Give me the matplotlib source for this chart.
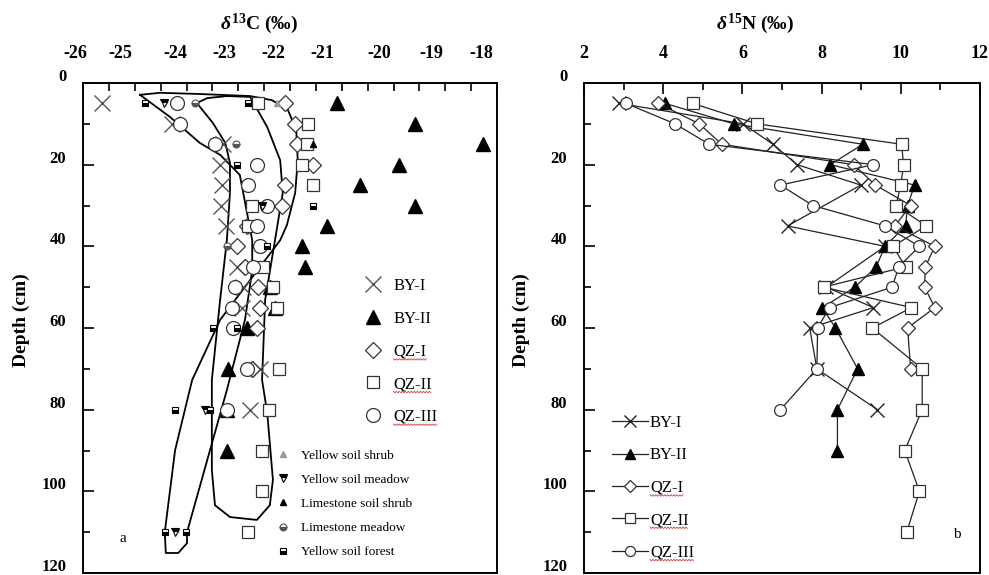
import matplotlib
matplotlib.use("Agg")
import numpy as np
import matplotlib.pyplot as plt
import matplotlib.transforms as mtransforms
from matplotlib.lines import Line2D
from matplotlib.ticker import MultipleLocator

plt.rcParams["font.family"] = ["Liberation Serif", "DejaVu Serif"]
plt.rcParams["mathtext.fontset"] = "custom"
plt.rcParams["mathtext.it"] = "Liberation Serif:italic:bold"
plt.rcParams["mathtext.rm"] = "Liberation Serif:bold"
plt.rcParams["mathtext.bf"] = "Liberation Serif:bold"

# ---- panel a : d13C by depth ----
c13_byi_depth = [5, 10, 15, 20, 25, 30, 35, 45, 50, 55, 70, 80]
c13_byi = [-25.63, -24.28, -23.30, -23.35, -23.31, -23.33, -23.24, -23.02, -22.91, -22.93, -22.58, -22.77]

c13_byii_depth = [5, 10, 15, 20, 25, 30, 35, 40, 45, 50, 55, 60, 70, 80, 90]
c13_byii = [-21.09, -19.58, -18.27, -19.89, -20.65, -19.58, -21.28, -21.77, -21.71, -22.39, -22.29, -22.83, -23.20, -23.22, -23.22]

c13_qzi_depth = [5, 10, 15, 20, 25, 30, 35, 40, 45, 50, 55, 60, 70]
c13_qzi = [-22.10, -21.90, -21.86, -21.56, -22.10, -22.15, -22.83, -23.02, -22.87, -22.62, -22.58, -22.64, -22.73]

c13_qzii_depth = [5, 10, 15, 20, 25, 30, 35, 45, 50, 55, 70, 80, 90, 100, 110]
c13_qzii = [-22.62, -21.65, -21.67, -21.77, -21.56, -22.73, -22.81, -22.52, -22.33, -22.25, -22.21, -22.41, -22.54, -22.54, -22.81]

c13_qziii_depth = [5, 10, 15, 20, 25, 30, 35, 40, 45, 50, 55, 60, 70, 80]
c13_qziii = [-24.18, -24.12, -23.45, -22.64, -22.81, -22.44, -22.64, -22.58, -22.71, -23.06, -23.12, -23.10, -22.83, -23.22]

# small site markers
ys_shrub_depth = [5]
ys_shrub = [-22.25]
ys_meadow_depth = [5, 30, 80, 110]
ys_meadow = [-24.43, -22.54, -23.64, -24.22]
ls_shrub_depth = [15]
ls_shrub = [-21.56]
ls_meadow_depth = [5, 15, 40]
ls_meadow = [-23.84, -23.04, -23.22]
ys_forest_depth = [5, 5, 20, 30, 40, 60, 60, 80, 80, 110, 110]
ys_forest = [-24.80, -22.81, -23.02, -21.56, -22.44, -23.49, -23.02, -24.22, -23.55, -24.42, -24.01]

# hand drawn envelopes (value, depth)
env1_x = [-24.90, -24.51, -23.74, -22.77, -22.35, -22.04, -21.88, -21.85, -21.90, -22.06, -22.19,
          -23.35, -23.89, -24.22, -24.42, -24.40, -24.16, -23.99, -23.99, -23.22, -22.87, -22.73,
          -22.73, -22.97, -23.35, -23.74, -24.32, -24.90]
env1_d = [2.9, 2.4, 2.7, 3.2, 4.2, 6.6, 11.5, 18.9, 26.9, 34.8, 38.5,
          58.0, 72.7, 89.9, 110.0, 115.1, 115.1, 112.7, 110.0, 75.2, 58.0, 45.8,
          38.5, 22.5, 17.6, 14.7, 8.3, 2.9]
env2_x = [-23.80, -23.60, -23.22, -22.77, -22.44, -22.19, -22.14, -22.29, -22.48, -22.54, -22.44,
          -22.33, -22.39, -22.64, -23.16, -23.45, -23.51, -23.51, -23.35, -23.22, -23.16, -23.16,
          -23.25, -23.49, -23.80]
env2_d = [4.9, 3.7, 3.2, 3.4, 10.8, 18.9, 26.9, 38.5, 53.1, 72.7, 80.8,
          97.2, 103.4, 107.0, 106.3, 103.4, 94.8, 72.7, 53.1, 38.5, 26.9, 19.6,
          14.7, 9.8, 4.9]

# ---- panel b : d15N by depth ----
n15_byi_depth = [5, 10, 15, 20, 25, 35, 40, 50, 55, 60, 70, 80]
n15_byi = [2.89, 6.02, 6.77, 7.38, 8.99, 7.14, 9.60, 8.12, 9.31, 7.70, 7.88, 9.41]

n15_byii_depth = [5, 10, 15, 20, 25, 30, 35, 40, 45, 50, 55, 60, 70, 80, 90]
n15_byii = [4.05, 5.78, 9.04, 8.22, 10.35, 10.17, 10.12, 9.60, 9.38, 8.84, 8.02, 8.35, 8.91, 8.40, 8.40]

n15_qzi_depth = [5, 10, 15, 20, 25, 30, 35, 40, 45, 50, 55, 60, 70]
n15_qzi = [3.88, 4.91, 5.48, 8.81, 9.36, 10.25, 9.85, 10.86, 10.62, 10.60, 10.86, 10.17, 10.25]

n15_qzii_depth = [5, 10, 15, 20, 25, 30, 35, 40, 45, 50, 55, 60, 70, 80, 90, 100, 110]
n15_qzii = [4.74, 6.37, 10.02, 10.07, 10.00, 9.88, 10.64, 9.80, 10.12, 8.05, 10.27, 9.28, 10.54, 10.54, 10.10, 10.47, 10.15]

n15_qziii_depth = [5, 10, 15, 20, 25, 30, 35, 40, 45, 50, 55, 60, 70, 80]
n15_qziii = [3.06, 4.30, 5.16, 9.31, 6.96, 7.78, 9.60, 10.47, 9.95, 9.78, 8.20, 7.90, 7.88, 6.96]

series_names = ["BY-I", "BY-II", "QZ-I", "QZ-II", "QZ-III"]
site_names = ["Yellow soil shrub", "Yellow soil meadow", "Limestone soil shrub", "Limestone meadow", "Yellow soil forest"]

# the top labels of panel a sit a little left of their ticks in the source
c13_label_shift = [-8, -14, -11, -14, -17, -19, -14, -14, -16]

W, H = 989, 575
fig = plt.figure(figsize=(W / 100, H / 100), dpi=100)
axa = fig.add_axes([83 / W, 2 / H, 414 / W, 490 / H])
axb = fig.add_axes([584 / W, 2 / H, 396 / W, 490 / H])

ec = "#333333"
styles = [
    dict(marker="x", ms=11, mew=1.0, color="#555555"),
    dict(marker="^", ms=10, mfc="black", mec="black", color="black"),
    dict(marker="D", ms=8, mfc="white", mec=ec, mew=0.9, color=ec),
    dict(marker="s", ms=9, mfc="white", mec=ec, mew=0.9, color=ec),
    dict(marker="o", ms=10, mfc="white", mec=ec, mew=0.9, color=ec),
]

# envelopes
axa.plot(env1_x, env1_d, color="black", lw=1.3, zorder=2)
axa.plot(env2_x, env2_d, color="black", lw=1.3, zorder=2)

c13 = [(c13_byi, c13_byi_depth), (c13_byii, c13_byii_depth), (c13_qzi, c13_qzi_depth),
       (c13_qzii, c13_qzii_depth), (c13_qziii, c13_qziii_depth)]
handles_a = []
for (vals, dep), st, name in zip(c13, styles, series_names):
    axa.plot(vals, dep, linestyle="none", zorder=3, **st)
    handles_a.append(Line2D([], [], linestyle="none", label=name, **st))

site_styles = [
    dict(marker="^", ms=5, color="#999999", mec="#999999"),
    dict(marker="v", ms=6, color="black", fillstyle="top", mfc="black", mfcalt="white", mec="black", mew=0.8),
    dict(marker="^", ms=4.5, color="black"),
    dict(marker="o", ms=5, color="#555555", fillstyle="bottom", mfc="#555555", mfcalt="white", mec="#555555", mew=0.8),
    dict(marker="s", ms=5, color="black", fillstyle="bottom", mfc="black", mfcalt="white", mec="black", mew=0.8),
]
sites = [(ys_shrub, ys_shrub_depth), (ys_meadow, ys_meadow_depth), (ls_shrub, ls_shrub_depth),
         (ls_meadow, ls_meadow_depth), (ys_forest, ys_forest_depth)]
handles_s = []
for (vals, dep), st, name in zip(sites, site_styles, site_names):
    axa.plot(vals, dep, linestyle="none", zorder=4, **st)
    handles_s.append(Line2D([], [], linestyle="none", label=name, **st))

# panel b lines
n15 = [(n15_byi, n15_byi_depth), (n15_byii, n15_byii_depth), (n15_qzi, n15_qzi_depth),
       (n15_qzii, n15_qzii_depth), (n15_qziii, n15_qziii_depth)]
stb = [
    dict(marker="x", ms=10, mew=1.0),
    dict(marker="^", ms=9, mfc="black", mec="black"),
    dict(marker="D", ms=7, mfc="white", mec=ec, mew=0.9),
    dict(marker="s", ms=8, mfc="white", mec=ec, mew=0.9),
    dict(marker="o", ms=8.5, mfc="white", mec=ec, mew=0.9),
]
handles_b = []
for (vals, dep), st, name in zip(n15, stb, series_names):
    axb.plot(vals, dep, color="#222222", lw=0.9, zorder=3, **st)
    small = dict(st)
    small["ms"] = st["ms"] * 0.85
    handles_b.append(Line2D([], [], color="#222222", lw=0.9, label=name, **small))

up = mtransforms.ScaledTranslation(0, 8 / 100, fig.dpi_scale_trans)
for ax in (axa, axb):
    ax.set_ylim(120, 0)
    ax.yaxis.set_major_locator(MultipleLocator(20))
    ax.yaxis.set_minor_locator(MultipleLocator(10))
    ax.xaxis.tick_top()
    ax.tick_params(which="both", direction="in", top=True, bottom=False, right=False)
    ax.tick_params(axis="x", which="major", length=6, width=1.2, pad=15, labelsize=13)
    ax.tick_params(axis="x", which="minor", length=6, width=1.2)
    ax.tick_params(axis="y", which="major", length=8, width=1.2, pad=12, labelsize=12)
    ax.tick_params(axis="y", which="minor", length=5, width=1.2)
    for sp in ax.spines.values():
        sp.set_linewidth(1.4)
    for lab in ax.get_yticklabels():
        lab.set_fontweight("bold")
        lab.set_transform(lab.get_transform() + up)
    ax.set_ylabel("Depth (cm)", fontsize=14, fontweight="bold")

axa.yaxis.set_label_coords(-0.128, 0.516)
axb.yaxis.set_label_coords(-0.136, 0.516)

axa.set_xlim(-26, -18)
axa.xaxis.set_minor_locator(MultipleLocator(0.5))
axa.set_xticks(range(-26, -17))
axa.set_xticklabels([str(v) for v in range(-26, -17)], fontweight="bold")
for lab, dx in zip(axa.get_xticklabels(), c13_label_shift):
    lab.set_transform(lab.get_transform() + mtransforms.ScaledTranslation(dx / 100, 0, fig.dpi_scale_trans))

axb.set_xlim(2, 12)
axb.xaxis.set_major_locator(MultipleLocator(2))
axb.xaxis.set_minor_locator(MultipleLocator(1))
axb.tick_params(axis="x", which="minor", length=5)
axb.tick_params(axis="x", which="major", length=8)
for lab in axb.get_xticklabels():
    lab.set_fontweight("bold")

fig.text(259 / W, 1 - 24 / H, r"$\mathit{\delta}^{13}$C (‰)", ha="center", va="center",
         fontsize=14, fontweight="bold")
fig.text(755 / W, 1 - 24 / H, r"$\mathit{\delta}^{15}$N (‰)", ha="center", va="center",
         fontsize=14, fontweight="bold")

leg1 = axa.legend(handles=handles_a, loc="upper left", bbox_to_anchor=(0.645, 0.632), frameon=False,
                  fontsize=12, handlelength=1.0, handletextpad=0.7, labelspacing=1.0, borderpad=0.4)
axa.add_artist(leg1)
leg2 = axa.legend(handles=handles_s, loc="upper left", bbox_to_anchor=(0.4395, 0.276), frameon=False,
                  fontsize=9.5, handlelength=1.0, handletextpad=0.86, labelspacing=0.9, borderpad=0.4)
leg3 = axb.legend(handles=handles_b, loc="upper left", bbox_to_anchor=(0.032, 0.353), frameon=False,
                  fontsize=12, handlelength=2.2, handletextpad=0.1, labelspacing=0.98, borderpad=0.4)

axa.text(0.097, 0.071, "a", transform=axa.transAxes, fontsize=11, ha="center", va="center")
axb.text(0.942, 0.078, "b", transform=axb.transAxes, fontsize=11, ha="center", va="center")

# red spell-check squiggles under the QZ labels, as in the source figure
fig.canvas.draw()
for leg in (leg1, leg3):
    for t in leg.get_texts():
        if t.get_text().startswith("QZ"):
            bb = t.get_window_extent()
            xs = np.arange(bb.x0, bb.x1, 1.5)
            ys = bb.y0 + 1 - 1.5 * (np.arange(len(xs)) % 2)
            fig.add_artist(Line2D(xs, ys, color="#d04040", lw=0.6,
                                  transform=mtransforms.IdentityTransform()))

fig.savefig("out.png", dpi=100)
